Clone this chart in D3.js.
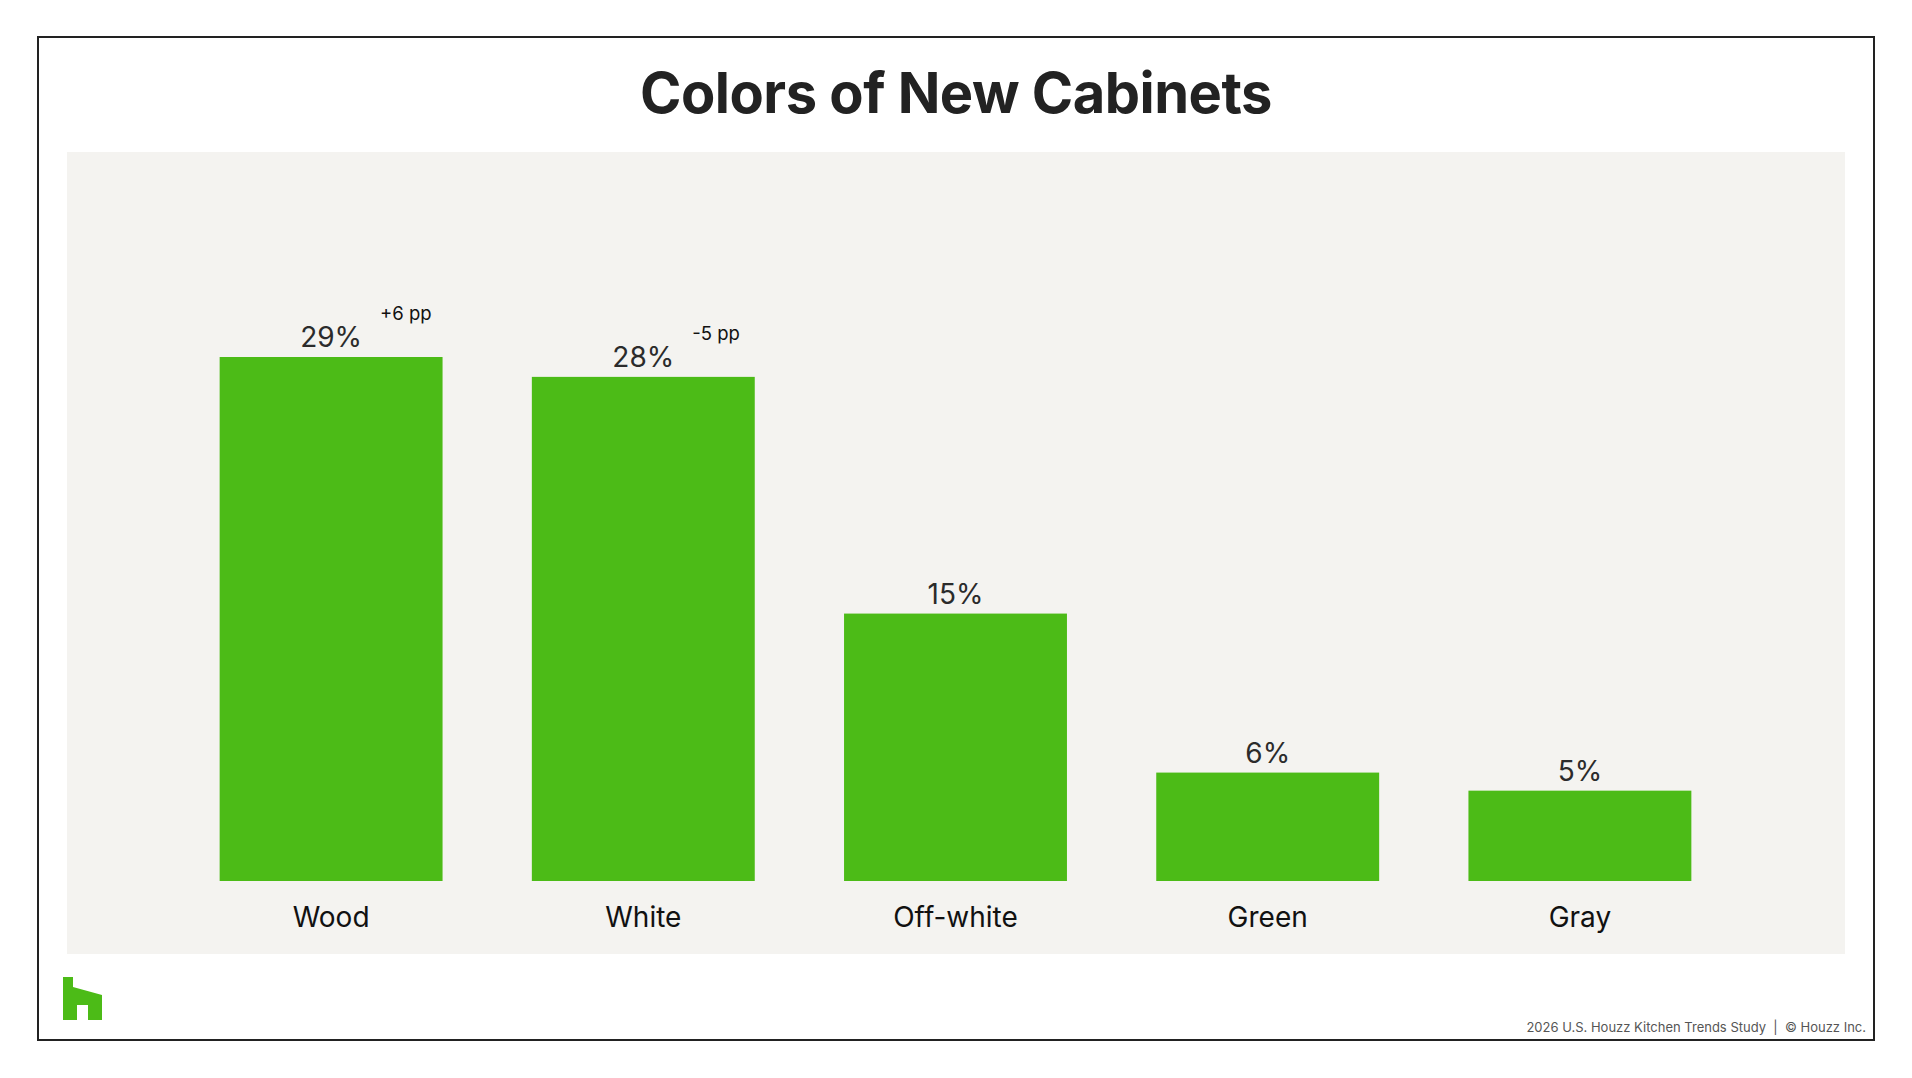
<!DOCTYPE html>
<html><head><meta charset="utf-8">
<script src="https://cdn.jsdelivr.net/npm/d3@7"></script>
<style>html,body{margin:0;padding:0;background:#fff;}svg{display:block;}</style>
</head><body>
<script>
const categories = ["Wood", "White", "Off-white", "Green", "Gray"];
const values = [29, 27.9, 14.8, 6, 5];
const valueLabels = ["29%", "28%", "15%", "6%", "5%"];
const changes = ["+6 pp", "-5 pp", "", "", ""];
const title = "Colors of New Cabinets";
const footer = "2026 U.S. Houzz Kitchen Trends Study  |  © Houzz Inc.";

const W = 1912, H = 1078;
const svg = d3.select("body").append("svg").attr("width", W).attr("height", H);
const font = "Inter, 'Noto Sans', sans-serif";

svg.append("rect").attr("x", 38).attr("y", 37).attr("width", 1836).attr("height", 1003)
  .attr("fill", "#fff").attr("stroke", "#222").attr("stroke-width", 2);
svg.append("rect").attr("x", 67).attr("y", 152).attr("width", 1778).attr("height", 802)
  .attr("fill", "#f4f3f0");

svg.append("text").attr("x", 956).attr("y", 112.5).attr("text-anchor", "middle")
  .attr("font-family", font).attr("font-weight", 700).attr("font-size", 56)
  .attr("fill", "#222").attr("letter-spacing", -0.5).text(title);

const x = d3.scaleBand().domain(categories).range([175, 1736]).paddingInner(0.286).paddingOuter(0.143);
const y = d3.scaleLinear().domain([0, 29]).range([881, 357]);

const g = svg.append("g");
const data = categories.map((c, i) => ({c, v: values[i], l: valueLabels[i], d: changes[i]}));

g.selectAll("rect.bar").data(data).join("rect").attr("class", "bar")
  .attr("x", d => x(d.c)).attr("width", x.bandwidth())
  .attr("y", d => y(d.v)).attr("height", d => y(0) - y(d.v))
  .attr("fill", "#4cbb17");

g.selectAll("text.val").data(data).join("text").attr("class", "val")
  .attr("x", d => x(d.c) + x.bandwidth() / 2).attr("y", d => y(d.v) - 10)
  .attr("text-anchor", "middle").attr("font-family", font).attr("font-size", 28)
  .attr("fill", "#2b2b2b").text(d => d.l);

g.selectAll("text.chg").data(data.filter(d => d.d)).join("text").attr("class", "chg")
  .attr("x", d => x(d.c) + x.bandwidth() / 2 + 49).attr("y", d => y(d.v) - 37)
  .attr("text-anchor", "start").attr("font-family", font).attr("font-size", 18.5)
  .attr("fill", "#111").text(d => d.d);

const xAxis = d3.axisBottom(x).tickSize(0).tickPadding(0);
const ax = svg.append("g").attr("transform", "translate(0,881)").call(xAxis);
ax.select(".domain").remove();
ax.selectAll("text").attr("font-family", font).attr("font-size", 28).attr("fill", "#111")
  .attr("dy", 0).attr("y", 46);

// logo
svg.append("path").attr("d", "M63,977 L73,977 L73,987 L102,995 L102,1020 L88,1020 L88,1005 L77,1005 L77,1020 L63,1020 Z")
  .attr("fill", "#4cbb17");

svg.append("text").attr("x", 1866).attr("y", 1032).attr("text-anchor", "end")
  .attr("font-family", font).attr("font-size", 13).attr("fill", "#555")
  .attr("xml:space", "preserve").style("white-space", "pre").text(footer);
</script>
</body></html>
